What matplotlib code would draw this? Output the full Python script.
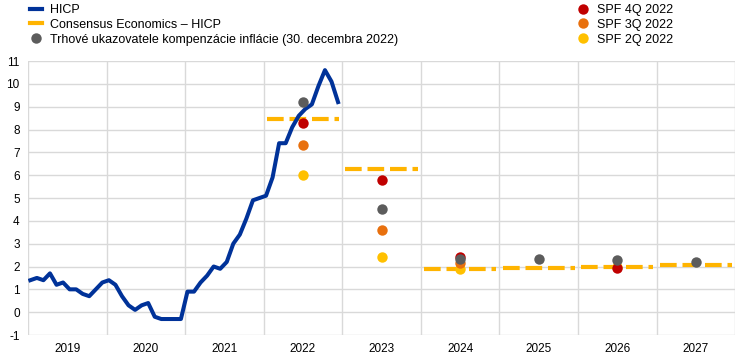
import matplotlib.pyplot as plt
from matplotlib.lines import Line2D

plt.rcParams['font.family'] = ['Liberation Sans', 'DejaVu Sans']
plt.rcParams['axes.unicode_minus'] = False

# --- data ---------------------------------------------------------------------
# euro area HICP, monthly, Jan 2019 - Dec 2022
hicp = [1.4, 1.5, 1.4, 1.7, 1.2, 1.3, 1.0, 1.0, 0.8, 0.7, 1.0, 1.3,
        1.4, 1.2, 0.7, 0.3, 0.1, 0.3, 0.4, -0.2, -0.3, -0.3, -0.3, -0.3,
        0.9, 0.9, 1.3, 1.6, 2.0, 1.9, 2.2, 3.0, 3.4, 4.1, 4.9, 5.0,
        5.1, 5.9, 7.4, 7.4, 8.1, 8.6, 8.9, 9.1, 9.9, 10.6, 10.1, 9.2]
hicp_start = 2019

years = [2019, 2020, 2021, 2022, 2023, 2024, 2025, 2026, 2027]

consensus_years = [2022, 2023, 2024, 2025, 2026, 2027]
consensus = [8.46, 6.28, 1.89, 1.92, 1.99, 2.07]

spf4_years = [2022, 2023, 2024, 2026]
spf4 = [8.3, 5.8, 2.42, 1.93]
spf3_years = [2022, 2023, 2024]
spf3 = [7.3, 3.6, 2.15]
spf2_years = [2022, 2023, 2024, 2026]
spf2 = [6.0, 2.4, 1.9, 2.0]
market_years = [2022, 2023, 2024, 2025, 2026, 2027]
market = [9.2, 4.5, 2.33, 2.33, 2.28, 2.2]

# --- colours ------------------------------------------------------------------
c_blue = '#003299'
c_cons = '#ffb400'
c_red = '#c00000'
c_orange = '#e8700e'
c_yellow = '#ffc000'
c_grey = '#5c5c5c'

fig = plt.figure(figsize=(7.44, 3.61), dpi=100)
ax = fig.add_axes([0.0376, 0.072, 0.9504, 0.759])

# grid
for y in range(-1, 12):
    ax.axhline(y, color='#d9d9d9', lw=1, zorder=0)
for yr in years + [2028]:
    ax.axvline(yr, color='#d9d9d9', lw=1, zorder=0)

# HICP line
xm = [hicp_start + i / 12 + 0.03 for i in range(len(hicp))]
ax.plot(xm, hicp, color=c_blue, lw=2.9, zorder=3, solid_joinstyle='round')

# consensus dashes, one per year
for yr, v in zip(consensus_years, consensus):
    ax.plot([yr + 0.04, yr + 0.96], [v, v], color=c_cons, lw=3,
            dashes=(4, 1.4), zorder=2, solid_capstyle='butt')

# survey / market dots at mid-year
ms = 7.5
def dots(yrs, vals, color):
    ax.plot([y + 0.5 for y in yrs], vals, 'o', color=color, ms=ms,
            mec='none', zorder=4)

dots(spf2_years, spf2, c_yellow)
dots(spf3_years, spf3, c_orange)
dots(spf4_years, spf4, c_red)
dots(market_years, market, c_grey)

# axes cosmetics
ax.set_xlim(2019, 2028)
ax.set_ylim(-1, 11)
ax.set_yticks(range(-1, 12))
ax.set_xticks(years + [2028])
ax.set_xticklabels([])
ax.set_xticks([y + 0.5 for y in years], minor=True)
ax.set_xticklabels([str(y) for y in years], minor=True)
ax.tick_params(axis='both', which='both', length=0, labelsize=8.5, colors='black')
ax.tick_params(axis='y', pad=6)
ax.tick_params(axis='x', which='minor', pad=6)
for s in ax.spines.values():
    s.set_visible(False)

# legends
h_left = [Line2D([], [], color=c_blue, lw=3),
          Line2D([], [], color=c_cons, lw=3),
          Line2D([], [], marker='o', ls='none', color=c_grey, ms=ms, mec='none')]
l_left = ['HICP', 'Consensus Economics – HICP',
          'Trhové ukazovatele kompenzácie inflácie (30. decembra 2022)']
h_right = [Line2D([], [], marker='o', ls='none', color=c, ms=ms, mec='none')
           for c in (c_red, c_orange, c_yellow)]
l_right = ['SPF 4Q 2022', 'SPF 3Q 2022', 'SPF 2Q 2022']

fig.legend(h_left, l_left, loc='upper left', bbox_to_anchor=(0.025, 1.02),
           frameon=False, fontsize=9, handlelength=1.0, handletextpad=0.6,
           labelspacing=0.22)
fig.legend(h_right, l_right, loc='upper left', bbox_to_anchor=(0.76, 1.02),
           frameon=False, fontsize=9, handlelength=1.0, handletextpad=0.6,
           labelspacing=0.22)

fig.savefig('out.png', dpi=100)
